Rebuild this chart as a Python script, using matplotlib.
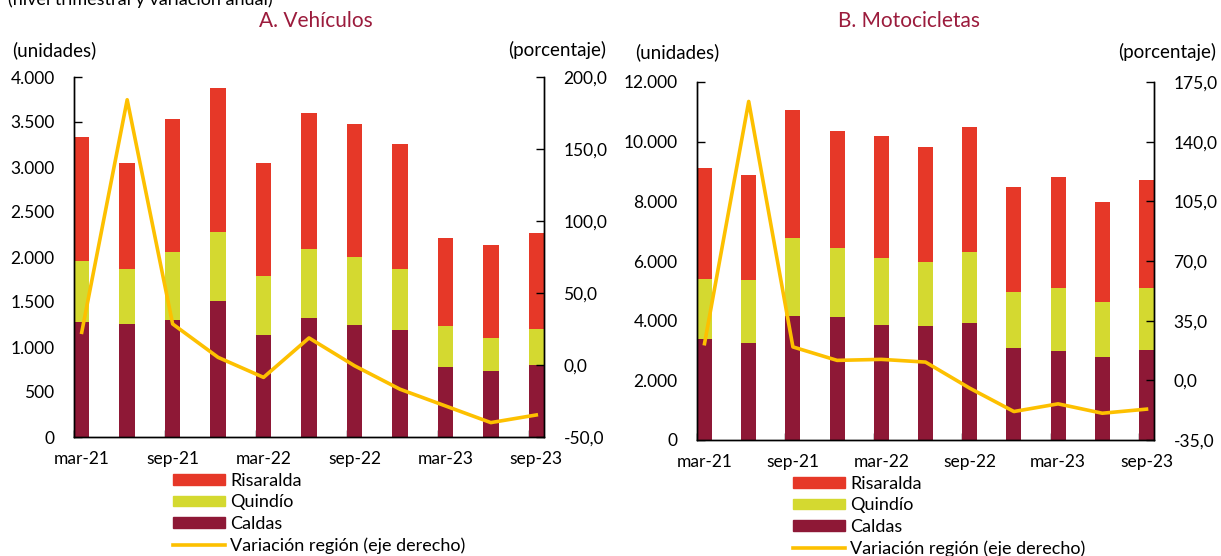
import numpy as np
import matplotlib
matplotlib.use("Agg")
from matplotlib import pyplot as plt
from matplotlib.patches import Patch
from matplotlib.lines import Line2D
from matplotlib.ticker import FuncFormatter

plt.rcParams['font.family'] = ['Lato', 'DejaVu Sans']

quarters = ["mar-21", "jun-21", "sep-21", "dic-21", "mar-22", "jun-22",
            "sep-22", "dic-22", "mar-23", "jun-23", "sep-23"]

# A. Vehiculos (unidades)
veh_caldas = [1275, 1260, 1305, 1506, 1134, 1320, 1245, 1190, 777, 732, 803]
veh_quindio = [684, 610, 754, 769, 654, 766, 759, 680, 453, 372, 401]
veh_risaralda = [1372, 1171, 1473, 1599, 1253, 1516, 1472, 1390, 986, 1026, 1067]
veh_var = [22.7, 184.2, 28.5, 5.3, -8.6, 18.8, -0.5, -16.8, -28.4, -40.0, -34.7]

# B. Motocicletas (unidades)
mot_caldas = [3387, 3252, 4150, 4116, 3858, 3813, 3936, 3073, 2994, 2781, 3028]
mot_quindio = [2007, 2098, 2624, 2310, 2232, 2153, 2367, 1895, 2098, 1840, 2064]
mot_risaralda = [3713, 3543, 4273, 3925, 4093, 3870, 4183, 3499, 3712, 3364, 3622]
mot_var = [21.5, 163.6, 19.6, 11.7, 12.3, 10.7, -4.6, -18.3, -13.8, -19.3, -16.9]

C_RIS = "#e63828"
C_QUI = "#d4d930"
C_CAL = "#8e1836"
C_LINE = "#fdc000"
C_TITLE = "#9b1b3c"

W = 0.34
FS = 12.5


def miles(v, pos):
    return f"{int(round(v)):,}".replace(",", ".")


def pct(v, pos):
    return f"{v:.1f}".replace(".", ",")


def panel(fig, rect, title, cal, qui, ris, var, ymax, ystep, rlim, rstep, title_x, lbl_y):
    ax = fig.add_axes(rect)
    x = np.arange(len(quarters))
    cal = np.array(cal); qui = np.array(qui); ris = np.array(ris)
    ax.bar(x, cal, W, color=C_CAL, zorder=2)
    ax.bar(x, qui, W, bottom=cal, color=C_QUI, zorder=2)
    ax.bar(x, ris, W, bottom=cal + qui, color=C_RIS, zorder=2)
    ax.set_xlim(-W / 2, len(quarters) - 1 + W / 2)
    ax.set_ylim(0, ymax)
    ax.set_yticks(np.arange(0, ymax + 1, ystep))
    ax.yaxis.set_major_formatter(FuncFormatter(miles))
    ax.set_xticks(x[::2])
    ax.set_xticklabels(quarters[::2])
    ax.set_xticks(x[::2] - W / 2, minor=True)
    ax.tick_params(axis='x', which='major', length=0, pad=10, labelsize=FS)
    ax.tick_params(axis='x', which='minor', direction='in', length=5, width=1)
    ax.tick_params(axis='y', direction='in', length=6, width=1, pad=14, labelsize=FS)
    ax.spines['top'].set_visible(False)
    for s in ax.spines.values():
        s.set_linewidth(1)

    ax2 = ax.twinx()
    ax2.plot(x, var, color=C_LINE, lw=2.6, zorder=3)
    ax2.set_ylim(*rlim)
    ax2.set_yticks(np.arange(rlim[0], rlim[1] + 0.1, rstep))
    ax2.yaxis.set_major_formatter(FuncFormatter(pct))
    ax2.tick_params(axis='y', direction='in', length=6, width=1, pad=14, labelsize=FS)
    ax2.spines['top'].set_visible(False)
    for s in ax2.spines.values():
        s.set_linewidth(1)

    fig.text(title_x, 1 - 21 / 556, title, color=C_TITLE, fontsize=15,
             ha='center', va='center')
    fig.text(rect[0] - 62 / 1221, 1 - lbl_y / 556, "(unidades)", fontsize=13.5,
             ha='left', va='center')
    fig.text(rect[0] + rect[2] + 62 / 1221, 1 - lbl_y / 556, "(porcentaje)",
             fontsize=13.5, ha='right', va='center')
    return ax


fig = plt.figure(figsize=(12.21, 5.56), dpi=100)

fig.text(8 / 1221, 1.0, "(nivel trimestral y variación anual)", fontsize=13,
         ha='left', va='center')

panel(fig, [74 / 1221, 1 - 437 / 556, 470 / 1221, 360 / 556], "A. Vehículos",
      veh_caldas, veh_quindio, veh_risaralda, veh_var,
      4000, 500, (-50, 200), 50, 316 / 1221, 50)
panel(fig, [697 / 1221, 1 - 440 / 556, 457 / 1221, 358 / 556], "B. Motocicletas",
      mot_caldas, mot_quindio, mot_risaralda, mot_var,
      12000, 2000, (-35, 175), 35, 909 / 1221, 52)

handles = [Patch(color=C_RIS, label="Risaralda"),
           Patch(color=C_QUI, label="Quindío"),
           Patch(color=C_CAL, label="Caldas"),
           Line2D([], [], color=C_LINE, lw=2.6, label="Variación región (eje derecho)")]

for lx, ly in [(173, 473), (793, 476)]:
    fig.legend(handles=handles, loc='upper left',
               bbox_to_anchor=(lx / 1221, 1 - ly / 556), frameon=False,
               fontsize=13, handlelength=2.9, handleheight=0.55,
               handletextpad=0.25, labelspacing=0.3, borderpad=0,
               borderaxespad=0)

fig.savefig("out.png", dpi=100)
